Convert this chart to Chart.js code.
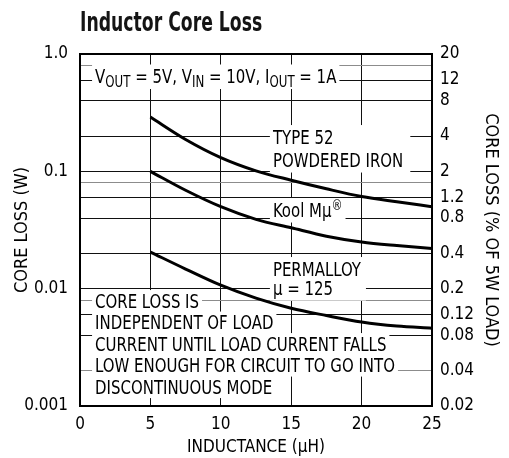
<!DOCTYPE html>
<html>
<head>
<meta charset="utf-8">
<script src="https://cdn.jsdelivr.net/npm/chart.js@4.4.1/dist/chart.umd.min.js"></script>
<style>
  html, body { margin: 0; padding: 0; background: #fff; }
  #chart { display: block; }
</style>
</head>
<body>
<canvas id="chart" width="509" height="458"></canvas>
<script>
const FONT = '"Liberation Sans Narrow", "DejaVu Sans Condensed", Arial, sans-serif';

// Curves (core loss in W vs inductance in uH)
const inductance = [5, 7.5, 10, 12.5, 15, 17.5, 20, 22.5, 25];
const type52Loss = [0.29, 0.187, 0.131, 0.101, 0.084, 0.071, 0.061, 0.055, 0.05];
const koolMuLoss = [0.1, 0.069, 0.05, 0.039, 0.033, 0.028, 0.025, 0.0233, 0.022];
const permalloyLoss = [0.0205, 0.0147, 0.0107, 0.0083, 0.0068, 0.0059, 0.0052, 0.0048, 0.0046];

// Axis ticks
const xTicks = [0, 5, 10, 15, 20, 25];
const gridValues = [1, 0.8, 0.6, 0.4, 0.2, 0.1, 0.08, 0.06, 0.04, 0.02, 0.01, 0.008, 0.006, 0.004, 0.002, 0.001];
const lightGridValues = [0.8, 0.08, 0.008, 0.002];
const leftTickValues = [1, 0.1, 0.01, 0.001];
const leftTickLabels = ['1.0', '0.1', '0.01', '0.001'];
const rightTickValues = [20, 12, 8, 4, 2, 1.2, 0.8, 0.4, 0.2, 0.12, 0.08, 0.04, 0.02];
const rightTickLabels = ['20', '12', '8', '4', '2', '1.2', '0.8', '0.4', '0.2', '0.12', '0.08', '0.04', '0.02'];

// Text notes inside the plot, anchored at (inductance, loss) of the first line
const notes = [
  { x: 1.07, y: 0.643, gap: 22, lines: ['V_{OUT} = 5V, V_{IN} = 10V, I_{OUT} = 1A'], padR: 3 },
  { x: 13.7, y: 0.196, gap: 23, lines: ['TYPE 52', 'POWDERED IRON'], padR: 7 },
  { x: 13.7, y: 0.0468, gap: 22, lines: ['Kool M\u03bc^{\u00ae}'], padR: 3 },
  { x: 13.7, y: 0.0147, gap: 19, lines: ['PERMALLOY', '\u03bc = 125'], padR: 5 },
  { x: 1.07, y: 0.00784, gap: 21.5, perLine: true, padR: 3, lines: [
    'CORE LOSS IS',
    'INDEPENDENT OF LOAD',
    'CURRENT UNTIL LOAD CURRENT FALLS',
    'LOW ENOUGH FOR CIRCUIT TO GO INTO',
    'DISCONTINUOUS MODE'
  ]}
];

const TEXT_SIZE = 19;
const SQUEEZE = 0.875;   // the original uses a condensed face

function parseRich(str) {
  const parts = [];
  const re = /([_^])\{([^}]*)\}/g;
  let last = 0, m;
  while ((m = re.exec(str))) {
    if (m.index > last) parts.push({ t: str.slice(last, m.index), k: '' });
    parts.push({ t: m[2], k: m[1] });
    last = re.lastIndex;
  }
  if (last < str.length) parts.push({ t: str.slice(last), k: '' });
  return parts;
}

function partFont(k) {
  if (k === '_') return '15px ' + FONT;
  if (k === '^') return '14px ' + FONT;
  return TEXT_SIZE + 'px ' + FONT;
}

function richWidth(ctx, str) {
  let w = 0;
  parseRich(str).forEach(p => { ctx.font = partFont(p.k); w += ctx.measureText(p.t).width * SQUEEZE; });
  return w;
}

function drawRich(ctx, str, x, baseY) {
  parseRich(str).forEach(p => {
    ctx.font = partFont(p.k);
    const dy = p.k === '_' ? 4 : (p.k === '^' ? -7 : 0);
    ctx.save();
    ctx.translate(x, baseY + dy);
    ctx.scale(SQUEEZE, 1);
    ctx.fillText(p.t, 0, 0);
    ctx.restore();
    x += ctx.measureText(p.t).width * SQUEEZE;
  });
}

const notesPlugin = {
  id: 'notes',
  beforeDatasetsDraw(chart) {
    const ctx = chart.ctx;
    const xs = chart.scales.x, ys = chart.scales.y;
    ctx.save();
    ctx.textBaseline = 'alphabetic';
    ctx.textAlign = 'left';
    notes.forEach(n => {
      const px = xs.getPixelForValue(n.x);
      const py = ys.getPixelForValue(n.y);
      const widths = n.lines.map(l => richWidth(ctx, l));
      ctx.fillStyle = '#fff';
      if (n.perLine) {
        n.lines.forEach((l, i) => {
          const cy = py + i * n.gap;
          ctx.fillRect(px - 3, cy - 11, widths[i] + 3 + n.padR, 22);
        });
      } else {
        const maxW = Math.max(...widths);
        const top = py - 12;
        const bottom = py + (n.lines.length - 1) * n.gap + 12.5;
        ctx.fillRect(px - 3, top, maxW + 3 + n.padR, bottom - top);
      }
      ctx.fillStyle = '#000';
      n.lines.forEach((l, i) => {
        drawRich(ctx, l, px, py + i * n.gap + TEXT_SIZE * 0.36);
      });
    });
    ctx.restore();
  },
  afterDatasetsDraw(chart) {
    const ctx = chart.ctx;
    const a = chart.chartArea;
    ctx.save();
    ctx.strokeStyle = '#000';
    ctx.lineWidth = 2;
    ctx.strokeRect(a.left, a.top, a.right - a.left, a.bottom - a.top);
    // title, squeezed to look like the condensed bold original
    ctx.fillStyle = '#141414';
    ctx.font = 'bold 27px ' + FONT;
    ctx.textBaseline = 'alphabetic';
    ctx.translate(a.left, 31);
    ctx.scale(0.71, 1);
    ctx.fillText('Inductor Core Loss', 0, 0);
    ctx.restore();
  }
};

const tickFont = { family: FONT, size: 17 };

function isIn(list, v) {
  return list.some(t => Math.abs(t - v) / t < 1e-6);
}

const ctx = document.getElementById('chart').getContext('2d');
const chart = new Chart(ctx, {
  type: 'line',
  data: {
    datasets: [
      { label: 'Type 52 powdered iron', data: inductance.map((x, i) => ({ x, y: type52Loss[i] })) },
      { label: 'Kool Mu', data: inductance.map((x, i) => ({ x, y: koolMuLoss[i] })) },
      { label: 'Permalloy mu=125', data: inductance.map((x, i) => ({ x, y: permalloyLoss[i] })) }
    ]
  },
  options: {
    responsive: false,
    animation: false,
    layout: { padding: { top: 54, left: 0, right: 0, bottom: 0 } },
    plugins: { legend: { display: false }, tooltip: { enabled: false } },
    elements: {
      point: { radius: 0 },
      line: { borderColor: '#000', borderWidth: 3, cubicInterpolationMode: 'monotone', fill: false }
    },
    scales: {
      x: {
        type: 'linear', min: 0, max: 25,
        afterBuildTicks: s => { s.ticks = xTicks.map(v => ({ value: v })); },
        afterFit: s => { s.height = 52; },
        ticks: { font: tickFont, color: '#000', padding: 8, autoSkip: false, maxRotation: 0 },
        grid: { color: '#111', lineWidth: 1, drawTicks: false },
        border: { display: false },
        title: { display: true, text: 'INDUCTANCE (\u03bcH)', font: { family: FONT, size: 17 }, color: '#000', padding: { top: 3, bottom: 0 } }
      },
      y: {
        type: 'logarithmic', position: 'left', min: 0.001, max: 1,
        afterBuildTicks: s => { s.ticks = gridValues.map(v => ({ value: v })); },
        afterFit: s => { s.width = 80; },
        ticks: {
          font: tickFont, color: '#000', padding: 12, autoSkip: false,
          callback: v => {
            const i = leftTickValues.findIndex(t => Math.abs(t - v) / t < 1e-6);
            return i >= 0 ? leftTickLabels[i] : '';
          }
        },
        grid: {
          drawTicks: false, lineWidth: 1,
          color: c => isIn(lightGridValues, c.tick.value) ? '#8c8c8c' : '#111'
        },
        border: { display: false },
        title: { display: true, text: 'CORE LOSS (W)', font: { family: FONT, size: 18 }, color: '#000', padding: { top: 12, bottom: 0 } }
      },
      y2: {
        type: 'logarithmic', position: 'right', min: 0.02, max: 20,
        afterBuildTicks: s => { s.ticks = rightTickValues.map(v => ({ value: v })); },
        afterFit: s => { s.width = 77; },
        ticks: {
          font: tickFont, color: '#000', padding: 8, autoSkip: false,
          callback: v => {
            const i = rightTickValues.findIndex(t => Math.abs(t - v) / t < 1e-6);
            return i >= 0 ? rightTickLabels[i] : '';
          }
        },
        grid: { display: false, drawTicks: false },
        border: { display: false },
        title: { display: true, text: 'CORE LOSS (% OF 5W LOAD)', font: { family: FONT, size: 18 }, color: '#000', padding: { top: 8, bottom: 0 } }
      }
    }
  },
  plugins: [notesPlugin]
});
</script>
</body>
</html>
